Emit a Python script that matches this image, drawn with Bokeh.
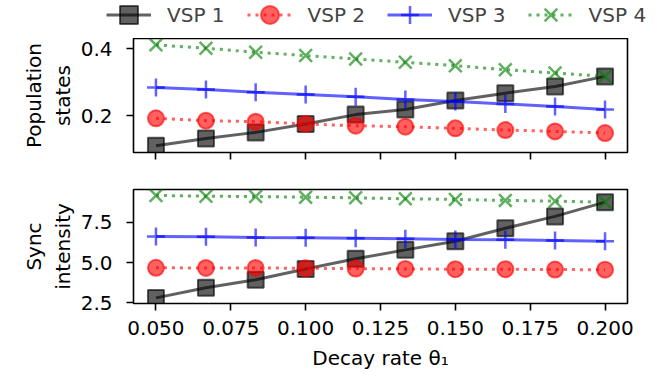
from bokeh.plotting import figure
from bokeh.layouts import column
from bokeh.models import (Legend, LegendItem, FixedTicker, NumeralTickFormatter, Range1d,
                          CustomJSTickFormatter)
from bokeh.embed import file_html
from bokeh.resources import INLINE

# ---- data ----
theta = [0.05, 0.0667, 0.0833, 0.1, 0.1167, 0.1333, 0.15, 0.1667, 0.1833, 0.2]
labels = ["VSP 1", "VSP 2", "VSP 3", "VSP 4"]
pop_vsp1 = [0.110, 0.132, 0.150, 0.175, 0.203, 0.218, 0.245, 0.267, 0.287, 0.317]
pop_vsp2 = [0.192, 0.185, 0.182, 0.175, 0.170, 0.167, 0.162, 0.157, 0.153, 0.148]
pop_vsp3 = [0.284, 0.278, 0.270, 0.263, 0.256, 0.248, 0.242, 0.235, 0.227, 0.218]
pop_vsp4 = [0.411, 0.401, 0.389, 0.379, 0.369, 0.359, 0.349, 0.337, 0.327, 0.317]
sync_vsp1 = [2.79, 3.42, 3.92, 4.60, 5.23, 5.79, 6.33, 7.14, 7.88, 8.77]
sync_vsp2 = [4.67, 4.66, 4.66, 4.64, 4.62, 4.60, 4.58, 4.58, 4.56, 4.55]
sync_vsp3 = [6.62, 6.61, 6.56, 6.54, 6.52, 6.48, 6.44, 6.42, 6.38, 6.33]
sync_vsp4 = [9.19, 9.14, 9.12, 9.08, 9.04, 8.98, 8.94, 8.88, 8.83, 8.77]
x_ticks = [0.05, 0.075, 0.1, 0.125, 0.15, 0.175, 0.2]
pop_ticks = [0.2, 0.4]
sync_ticks = [2.5, 5.0, 7.5]

FONT = "DejaVu Sans"
colors = ["#000000", "#ff0000", "#0000ff", "#008000"]
markers = ["square", "circle", "cross", "x"]
dashes = ["solid", "3 5", "solid", "3 5"]
ALPHA = 0.62
LEFT, RIGHT = 133, 31


def style(p, yticks, yfmt, ylabel, show_xlabels):
    p.outline_line_color = "black"
    p.outline_line_width = 1.6
    p.xgrid.visible = False
    p.ygrid.visible = False
    for ax in (p.xaxis[0], p.yaxis[0]):
        ax.axis_line_color = None
        ax.major_tick_out = 7
        ax.major_tick_in = 0
        ax.minor_tick_line_color = None
        ax.major_tick_line_width = 1.6
        ax.major_tick_line_color = "black"
        ax.major_label_text_font = FONT
        ax.major_label_text_font_size = "20px"
        ax.major_label_text_color = "black"
        ax.axis_label_text_font = FONT
        ax.axis_label_text_font_size = "20px"
        ax.axis_label_text_font_style = "normal"
        ax.axis_label_text_color = "black"
    p.xaxis.ticker = FixedTicker(ticks=x_ticks)
    p.yaxis.ticker = FixedTicker(ticks=yticks)
    p.yaxis.formatter = NumeralTickFormatter(format=yfmt)
    p.yaxis.axis_label = ylabel
    p.yaxis.major_label_standoff = 14
    p.yaxis.axis_label_standoff = 3
    if show_xlabels:
        p.xaxis.formatter = NumeralTickFormatter(format="0.000")
        p.xaxis.axis_label = "Decay rate θ₁"
        p.xaxis.major_label_standoff = 10
        p.xaxis.axis_label_standoff = 8
    else:
        p.xaxis.formatter = CustomJSTickFormatter(code="return ''")
        p.xaxis.major_label_standoff = 0


def draw(p, series):
    rends = []
    for ys, c, m, d in zip(series, colors, markers, dashes):
        ln = p.line(theta, ys, line_color=c, line_width=3, line_alpha=ALPHA, line_dash=d)
        if m in ("cross", "x"):
            sc = p.scatter(theta, ys, marker=m, size=18, line_color=c, line_width=2.5,
                           line_alpha=ALPHA)
        else:
            sc = p.scatter(theta, ys, marker=m, size=16, fill_color=c, fill_alpha=ALPHA,
                           line_color=c, line_alpha=ALPHA, line_width=2)
        rends.append([ln, sc])
    return rends


# ---- legend strip (its own root so it is not frame-aligned with the panels) ----
pl = figure(width=LEFT + 494 + RIGHT, height=38, output_backend="svg", toolbar_location=None,
            x_axis_location=None, y_axis_location=None, min_border=0,
            x_range=Range1d(0, 1), y_range=Range1d(10, 11))
pl.outline_line_color = None
pl.xgrid.visible = False
pl.ygrid.visible = False
leg_rends = draw(pl, [pop_vsp1, pop_vsp2, pop_vsp3, pop_vsp4])  # out of view; legend only
legend = Legend(items=[LegendItem(label=l, renderers=r) for l, r in zip(labels, leg_rends)],
                orientation="horizontal", location=(106, 1),
                border_line_color=None, background_fill_alpha=0,
                padding=0, margin=0, spacing=22, glyph_width=45, glyph_height=45,
                label_standoff=16, label_text_font=FONT, label_text_font_size="20px",
                label_height=20)
pl.add_layout(legend, "center")

p1 = figure(frame_width=494, frame_height=114, output_backend="svg", toolbar_location=None,
            x_range=Range1d(0.0425, 0.2075), y_range=Range1d(0.09, 0.43),
            min_border_left=LEFT, min_border_right=RIGHT, min_border_top=0,
            min_border_bottom=29)
draw(p1, [pop_vsp1, pop_vsp2, pop_vsp3, pop_vsp4])
style(p1, pop_ticks, "0.0", "Population\nstates", False)

p2 = figure(frame_width=494, frame_height=114, output_backend="svg", toolbar_location=None,
            x_range=Range1d(0.0425, 0.2075), y_range=Range1d(2.44, 9.56),
            min_border_left=LEFT, min_border_right=RIGHT, min_border_top=8,
            min_border_bottom=66)
draw(p2, [sync_vsp1, sync_vsp2, sync_vsp3, sync_vsp4])
style(p2, sync_ticks, "0.0", "Sync\nintensity", True)

panels = column(p1, p2, spacing=0)
open("out.html", "w").write(file_html([pl, panels], INLINE))
